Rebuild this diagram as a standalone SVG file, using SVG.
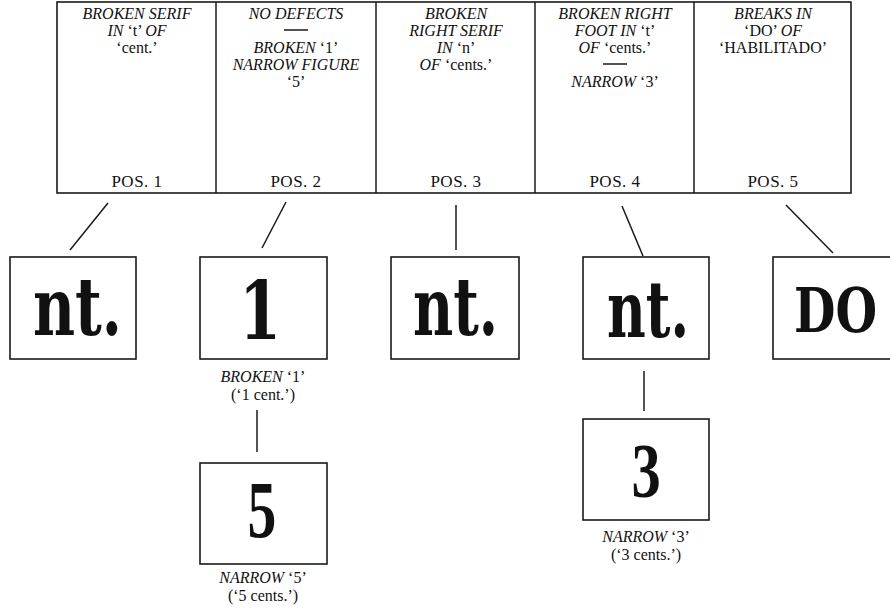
<svg xmlns="http://www.w3.org/2000/svg" width="890" height="612" viewBox="0 0 890 612">
<style>
.bg{fill:#fff}
.box{fill:#fff;stroke:#1a1a1a;stroke-width:1.6}
.ln{stroke:#1a1a1a;stroke-width:1.5;fill:none}
.t{font-family:"Liberation Serif","Times New Roman",serif;font-size:16px;fill:#111;text-anchor:middle}
.i{font-style:italic}
.pos{font-family:"Liberation Serif","Times New Roman",serif;font-size:17px;fill:#111;text-anchor:middle;letter-spacing:0.5px}
.g{font-family:"DejaVu Serif",serif;font-weight:bold;fill:#111}
.d{font-family:"Liberation Serif","Times New Roman",serif;font-weight:bold;fill:#111;text-anchor:middle}
</style>
<rect class="bg" x="0" y="0" width="890" height="612"/>
<g id="table">
<rect class="box" x="57" y="2" width="794" height="191"/>
<line class="ln" x1="216" y1="2" x2="216" y2="193"/>
<line class="ln" x1="376" y1="2" x2="376" y2="193"/>
<line class="ln" x1="535" y1="2" x2="535" y2="193"/>
<line class="ln" x1="694" y1="2" x2="694" y2="193"/>
</g>
<g id="pos1">
<text class="t i" x="137" y="19">BROKEN SERIF</text>
<text class="t" x="137" y="36"><tspan class="i">IN</tspan> ‘t’ <tspan class="i">OF</tspan></text>
<text class="t" x="137" y="53">‘cent.’</text>
<text class="pos" x="137" y="187">POS. 1</text>
</g>
<g id="pos2">
<text class="t i" x="296" y="19">NO DEFECTS</text>
<line class="ln" x1="284" y1="30" x2="308" y2="30" stroke-width="1"/>
<text class="t" x="296" y="53"><tspan class="i">BROKEN</tspan> ‘1’</text>
<text class="t i" x="296" y="70">NARROW FIGURE</text>
<text class="t" x="296" y="87">‘5’</text>
<text class="pos" x="296" y="187">POS. 2</text>
</g>
<g id="pos3">
<text class="t i" x="456" y="19">BROKEN</text>
<text class="t i" x="456" y="36">RIGHT SERIF</text>
<text class="t" x="456" y="53"><tspan class="i">IN</tspan> ‘n’</text>
<text class="t" x="456" y="70"><tspan class="i">OF</tspan> ‘cents.’</text>
<text class="pos" x="456" y="187">POS. 3</text>
</g>
<g id="pos4">
<text class="t i" x="615" y="19">BROKEN RIGHT</text>
<text class="t" x="615" y="36"><tspan class="i">FOOT IN</tspan> ‘t’</text>
<text class="t" x="615" y="53"><tspan class="i">OF</tspan> ‘cents.’</text>
<line class="ln" x1="603" y1="64" x2="627" y2="64" stroke-width="1"/>
<text class="t" x="615" y="87"><tspan class="i">NARROW</tspan> ‘3’</text>
<text class="pos" x="615" y="187">POS. 4</text>
</g>
<g id="pos5">
<text class="t i" x="773" y="19">BREAKS IN</text>
<text class="t" x="773" y="36">‘DO’ <tspan class="i">OF</tspan></text>
<text class="t" x="773" y="53">‘HABILITADO’</text>
<text class="pos" x="773" y="187">POS. 5</text>
</g>
<g id="connectors">
<line class="ln" x1="108" y1="203" x2="70" y2="250"/>
<line class="ln" x1="286" y1="202" x2="262" y2="248"/>
<line class="ln" x1="456" y1="205" x2="456" y2="250"/>
<line class="ln" x1="622" y1="206" x2="643" y2="256"/>
<line class="ln" x1="786" y1="205" x2="833" y2="253"/>
<line class="ln" x1="257" y1="410" x2="257" y2="452"/>
<line class="ln" x1="644" y1="371" x2="644" y2="411"/>
</g>
<g id="stamp1">
<rect class="box" x="10" y="257" width="126" height="102"/>
<text class="g" x="33" y="335" font-size="80" textLength="89" lengthAdjust="spacingAndGlyphs">nt.</text>
</g>
<g id="stamp2">
<rect class="box" x="200" y="257" width="127" height="102"/>
<text class="g" font-size="80" text-anchor="middle" transform="translate(260,339) scale(0.75,1)">1</text>
<text class="t" x="263" y="382"><tspan class="i">BROKEN</tspan> ‘1’</text>
<text class="t" x="263" y="400">(‘1 cent.’)</text>
</g>
<g id="stamp3">
<rect class="box" x="391" y="257" width="128" height="102"/>
<text class="g" x="413" y="335" font-size="80" textLength="85" lengthAdjust="spacingAndGlyphs">nt.</text>
</g>
<g id="stamp4">
<rect class="box" x="583" y="257" width="126" height="102"/>
<text class="g" x="607" y="337" font-size="78" textLength="82" lengthAdjust="spacingAndGlyphs">nt.</text>
</g>
<g id="stamp5">
<rect class="box" x="773" y="257" width="130" height="102"/>
<text class="g" font-size="62" transform="translate(794,332) scale(0.77,1)">DO</text>
</g>
<g id="stamp5c">
<rect class="box" x="200" y="463" width="127" height="101"/>
<text class="d" font-size="80" transform="translate(262,537) scale(0.72,1)">5</text>
<text class="t" x="263" y="583"><tspan class="i">NARROW</tspan> ‘5’</text>
<text class="t" x="263" y="601">(‘5 cents.’)</text>
</g>
<g id="stamp3c">
<rect class="box" x="583" y="419" width="126" height="101"/>
<text class="d" font-size="78" transform="translate(646,497) scale(0.75,1)">3</text>
<text class="t" x="646" y="542"><tspan class="i">NARROW</tspan> ‘3’</text>
<text class="t" x="646" y="560">(‘3 cents.’)</text>
</g>
</svg>
